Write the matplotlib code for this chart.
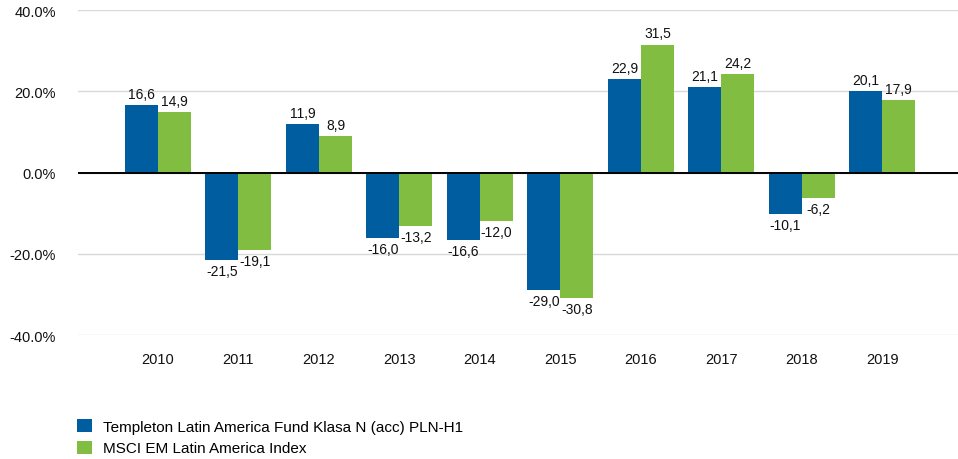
import numpy as np
import matplotlib.pyplot as plt
from matplotlib.patches import Patch

plt.rcParams['font.family'] = ['Liberation Sans', 'DejaVu Sans']

years = ['2010', '2011', '2012', '2013', '2014', '2015', '2016', '2017', '2018', '2019']
fund = [16.6, -21.5, 11.9, -16.0, -16.6, -29.0, 22.9, 21.1, -10.1, 20.1]
index = [14.9, -19.1, 8.9, -13.2, -12.0, -30.8, 31.5, 24.2, -6.2, 17.9]
series_names = ['Templeton Latin America Fund Klasa N (acc) PLN-H1',
                'MSCI EM Latin America Index']

BLUE = '#005DA0'
GREEN = '#80BD41'


def fmt(v):
    return f'{v:.1f}'.replace('.', ',')


fig = plt.figure(figsize=(9.58, 4.6), dpi=100)
ax = fig.add_axes([78 / 958, 1 - 336 / 460, 1 - 78 / 958, (336 - 11) / 460])

x = np.arange(len(years))
w = 0.41
b1 = ax.bar(x - w / 2, fund, w, color=BLUE, zorder=3)
b2 = ax.bar(x + w / 2, index, w, color=GREEN, zorder=3)

for bars, vals in ((b1, fund), (b2, index)):
    for rect, v in zip(bars, vals):
        cx = rect.get_x() + rect.get_width() / 2
        if v >= 0:
            ax.annotate(fmt(v), (cx, v), xytext=(0, 3), textcoords='offset points',
                        ha='center', va='bottom', fontsize=10, color='#111111')
        else:
            ax.annotate(fmt(v), (cx, v), xytext=(0, -3), textcoords='offset points',
                        ha='center', va='top', fontsize=10, color='#111111')

ax.set_ylim(-40, 40)
ax.set_xlim(-0.994, 9.94)
ax.set_yticks([-40, -20, 0, 20, 40])
ax.set_yticklabels([f'{t:.1f}%' for t in [-40, -20, 0, 20, 40]])
ax.set_xticks(x)
ax.set_xticklabels(years)
ax.tick_params(axis='both', length=0, labelsize=10.5, colors='#111111')
ax.tick_params(axis='y', pad=16)
ax.tick_params(axis='x', pad=12)
ax.grid(axis='y', color='#d9d9d9', linewidth=1, zorder=0)
ax.axhline(0, color='black', linewidth=1.4, zorder=4)
for s in ax.spines.values():
    s.set_visible(False)

handles = [Patch(facecolor=BLUE), Patch(facecolor=GREEN)]
fig.legend(handles, series_names, loc='lower left', bbox_to_anchor=(68 / 958, -0.012),
           frameon=False, fontsize=11, handlelength=0.95, handleheight=0.95,
           handletextpad=0.75, labelspacing=0.45, borderaxespad=0.2)

fig.savefig('out.png', dpi=100)
